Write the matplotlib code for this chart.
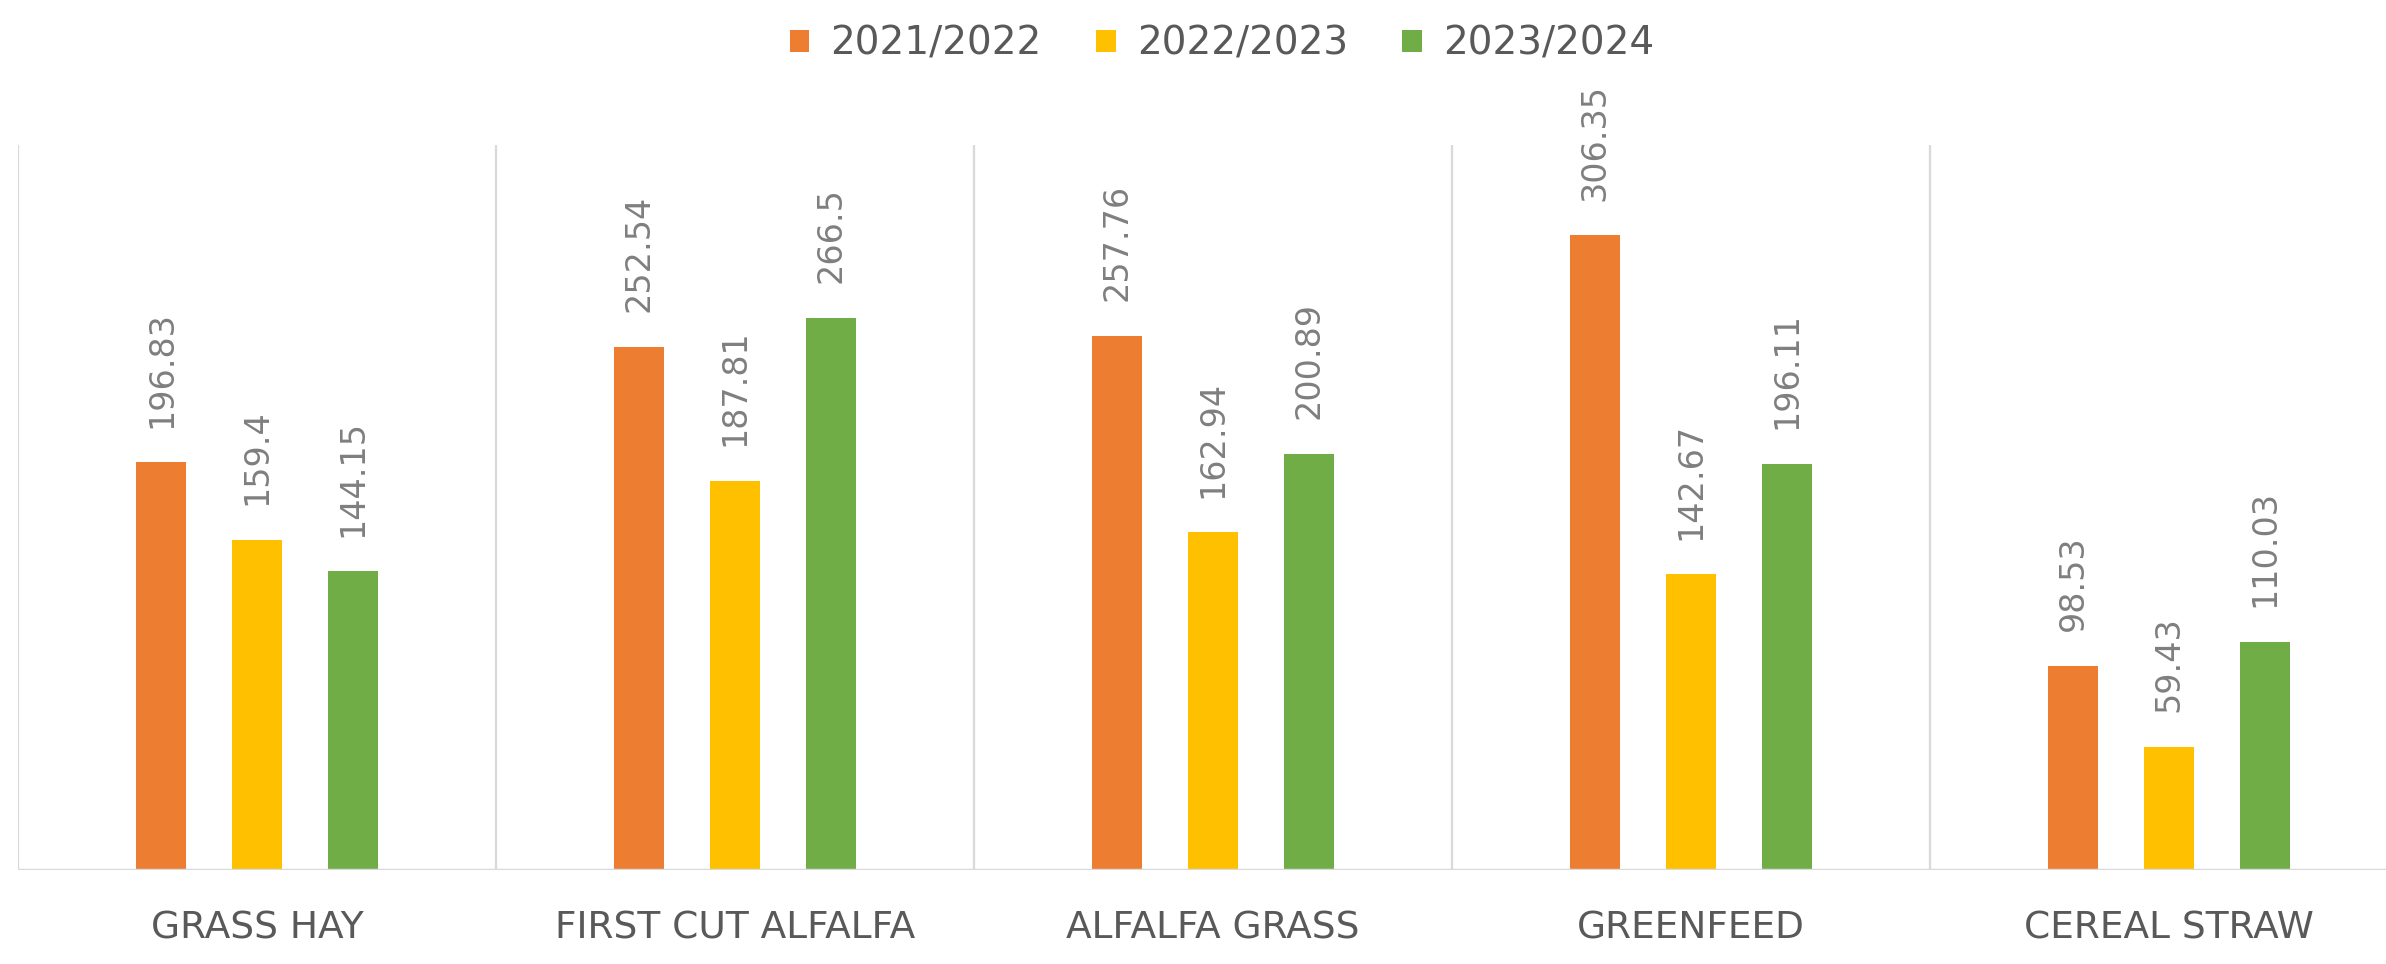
import numpy as np
import matplotlib
matplotlib.use("Agg")
import matplotlib.pyplot as plt
from matplotlib.patches import Patch

# Data
categories = ["GRASS HAY", "FIRST CUT ALFALFA", "ALFALFA GRASS", "GREENFEED", "CEREAL STRAW"]
seasons = ["2021/2022", "2022/2023", "2023/2024"]
v_2122 = [196.83, 252.54, 257.76, 306.35, 98.53]
v_2223 = [159.4, 187.81, 162.94, 142.67, 59.43]
v_2324 = [144.15, 266.5, 200.89, 196.11, 110.03]
series = [v_2122, v_2223, v_2324]
colors = ["#ED7D31", "#FFC000", "#70AD47"]

fig = plt.figure(figsize=(23.86, 9.64), dpi=100)
# axes runs a bit past the right edge, like the cropped original
ax = fig.add_axes([18 / 2386, 94 / 964, 2390 / 2386, 725 / 964])

x = np.arange(len(categories))
offsets = [-0.2, 0.0, 0.2]
bar_w = 0.105

for vals, off, col in zip(series, offsets, colors):
    bars = ax.bar(x + off, vals, width=bar_w, color=col, zorder=3)
    for b, v in zip(bars, vals):
        ax.annotate(f"{v:g}", (b.get_x() + b.get_width() / 2, b.get_height()),
                    xytext=(0, 25), textcoords="offset points",
                    rotation=90, ha="center", va="bottom",
                    fontsize=24, color="#7F7F7F")

ax.set_xlim(-0.5, len(categories) - 0.5)
ax.set_ylim(0, 350)

# category separators
ax.vlines(np.arange(len(categories) + 1) - 0.5, 0, 350, colors="#D9D9D9", lw=1.6, zorder=1)
ax.axhline(0, color="#D9D9D9", lw=2.5, zorder=4)

for s in ax.spines.values():
    s.set_visible(False)
ax.set_yticks([])
ax.set_xticks(x)
ax.set_xticklabels(categories, fontsize=27, color="#595959")
ax.tick_params(axis="x", length=0, pad=29)

handles = [Patch(facecolor=c, edgecolor="none") for c in colors]
fig.legend(handles, seasons, loc="center", bbox_to_anchor=(1222 / 2386, 1 - 44 / 964),
           ncol=3, frameon=False, fontsize=28, labelcolor="#595959",
           handlelength=0.5, handleheight=0.5, handletextpad=0.55, columnspacing=1.4)

fig.savefig("out.png", dpi=100, facecolor="white")
